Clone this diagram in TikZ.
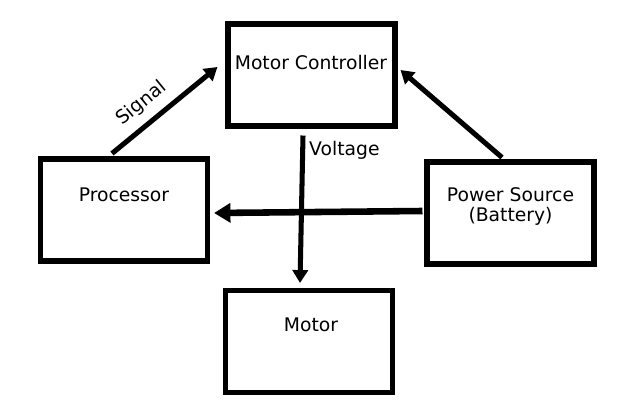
\documentclass[tikz,border=0pt]{standalone}
\usepackage{fontspec}
\setmainfont{DejaVu Sans}
\usetikzlibrary{arrows.meta}
\begin{document}
\begin{tikzpicture}[x=0.03cm,y=-0.03cm,
  box/.style={draw=black,line width=4.3pt,minimum width=5.01cm,minimum height=3.06cm,inner sep=0pt},
  lbl/.style={font=\fontsize{16}{19}\selectfont,inner sep=0pt},
  conn/.style={line width=4.3pt,-{Triangle[length=11pt,width=13pt]}},
  thickconn/.style={line width=5.6pt,-{Triangle[length=14pt,width=16pt]}}]
\useasboundingbox[fill=white] (0,0) rectangle (640,400);
\node[box] (mc) at (311.5,75) {};
\node[box] (proc) at (124,210) {};
\node[box] (pwr) at (510.5,213) {};
\node[box] (mot) at (309,341.5) {};
\node[lbl,anchor=base] (tmc) at (311,70) {Motor Controller};
\node[lbl,anchor=base] (tproc) at (124,202) {Processor};
\node[lbl,anchor=base] (tpwr) at (510.5,202) {Power Source};
\node[lbl,anchor=base] (tbat) at (510.5,222) {(Battery)};
\node[lbl,anchor=base] (tmot) at (311,332) {Motor};
\draw[conn] ([xshift=-12*0.03cm,yshift=3*0.03cm]proc.north) -- ([xshift=-8*0.03cm,yshift=8*0.03cm]mc.west)
  node[lbl,pos=0.4,sloped,above=7pt] (tsig) {Signal};
\draw[conn] ([xshift=-8.5*0.03cm,yshift=2*0.03cm]pwr.north) -- ([xshift=3*0.03cm,yshift=5*0.03cm]mc.east);
\draw[thickconn] ([xshift=-2*0.03cm,yshift=2*0.03cm]pwr.west) -- ([xshift=4*0.03cm,yshift=-3*0.03cm]proc.east);
\draw[conn] ([xshift=-8.5*0.03cm,yshift=-7*0.03cm]mc.south) -- ([xshift=-9*0.03cm,yshift=5*0.03cm]mot.north);
\node[lbl,anchor=base west] (tvolt) at (309,156) {Voltage};
\end{tikzpicture}
\end{document}
